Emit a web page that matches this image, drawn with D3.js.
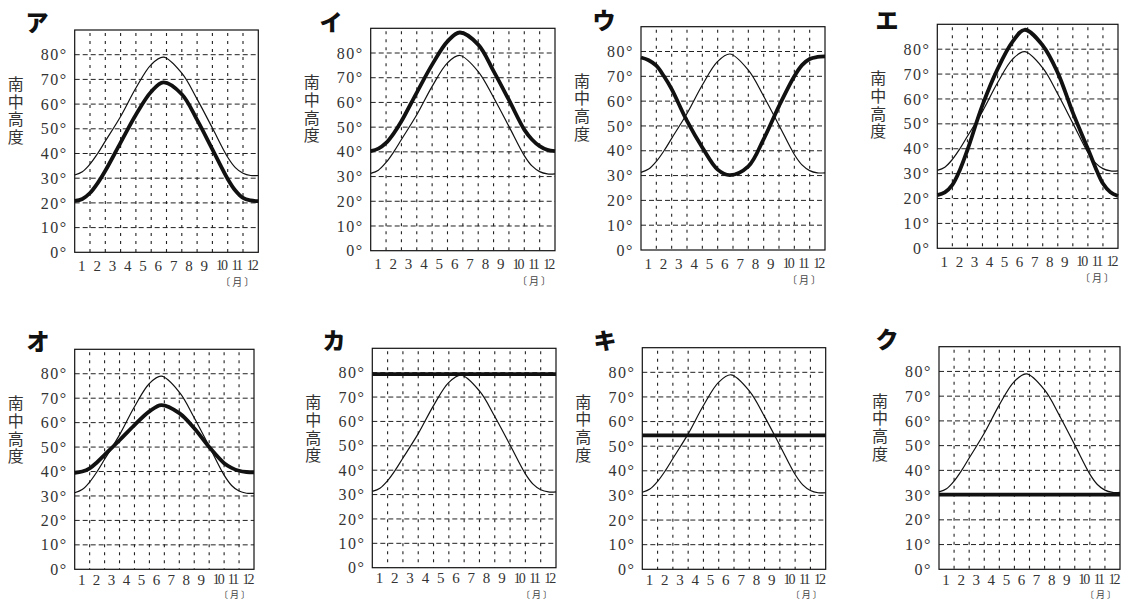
<!DOCTYPE html>
<html><head><meta charset="utf-8">
<script src="https://cdn.jsdelivr.net/npm/d3@7"></script>
<style>
html,body{margin:0;padding:0;background:#fff;}
svg{display:block;}
</style></head>
<body>
<svg id="c" width="1125" height="599"></svg>
<script>
// ---- data ----
const months = ["1","2","3","4","5","6","7","8","9","10","11","12"];
const monthCenters = [0.5,1.5,2.5,3.5,4.5,5.5,6.5,7.5,8.5,9.5,10.5,11.5];
const yTicks = [0,10,20,30,40,50,60,70,80];
const yTickLabels = ["0°","10°","20°","30°","40°","50°","60°","70°","80°"];
const axisTitle = "南中高度";
const unitLabel = "〔月〕";
const panelLabels = ["ア","イ","ウ","エ","オ","カ","キ","ク"];

// month positions (0 = start of Jan, 12 = end of Dec)
const pos = [0, 0.5, 1, 1.5, 2, 3, 4, 5, 5.8, 7, 8, 9, 10, 10.5, 11, 11.5, 12];
// thin reference curve (same in every panel)
const baseCurve = [31.3, 32.6, 35.7, 40, 45, 55, 66.5, 76, 79, 72.5, 62, 50.3, 38.5, 34.3, 32, 31.1, 31.1];
// thick curves
const thickA  = [20.8, 21.6, 24, 28, 33, 44.4, 55.7, 65, 68.8, 64, 53.6, 41.7, 29.7, 25, 22, 21, 20.7];
const thickI  = [40.3, 41.3, 43.6, 47.5, 52.4, 64, 75.3, 84.7, 88.3, 83.4, 72.7, 61, 49, 45, 42.3, 40.8, 40.3];
const thickU  = [77.6, 76.5, 74.3, 70, 64.8, 52, 41.3, 32.4, 30.2, 33.7, 44.7, 58, 70, 74.5, 77, 77.8, 78];
const thickE  = [21.4, 22.5, 25.5, 31.5, 39.5, 57.5, 72, 83, 87.8, 81.5, 70.5, 54.5, 40, 32.5, 26, 22.5, 21];
const thickO  = [39.5, 40, 41.3, 43.8, 46.8, 52.8, 59, 64.6, 67.2, 63.9, 57.7, 50, 43.4, 41.5, 40.3, 39.8, 39.7];
const flatPos = [0, 12];
const thickKa = [79.4, 79.4];
const thickKi = [54.4, 54.4];
const thickKu = [30.2, 30.2];

const thickSeries = [
  {p: pos, v: thickA}, {p: pos, v: thickI}, {p: pos, v: thickU}, {p: pos, v: thickE},
  {p: pos, v: thickO}, {p: flatPos, v: thickKa}, {p: flatPos, v: thickKi}, {p: flatPos, v: thickKu}
];

// ---- layout ----
const boxes = [
  {l: 74.7, r: 258.3, t: 30,    b: 252.3, tx: 37,  ty: 31,  row: 0},
  {l: 370.7, r: 555,  t: 28.3,  b: 250.7, tx: 331, ty: 31,  row: 0},
  {l: 641,  r: 825,   t: 26.7,  b: 250,   tx: 604, ty: 29,  row: 0},
  {l: 937.3, r: 1118, t: 24.3,  b: 248.3, tx: 887, ty: 29,  row: 0},
  {l: 74.7, r: 254,   t: 349.3, b: 569.3, tx: 38,  ty: 350, row: 1},
  {l: 372.3, r: 556,  t: 348.3, b: 567.7, tx: 334, ty: 349, row: 1},
  {l: 642.3, r: 825.7,t: 347.7, b: 569.3, tx: 605, ty: 349, row: 1},
  {l: 939,  r: 1120,  t: 346.7, b: 569.3, tx: 887, ty: 348, row: 1}
];

const svg = d3.select("#c");
const serif = "'Liberation Serif','DejaVu Serif',serif";
const jp = "'Noto Sans CJK JP','Noto Sans CJK SC',sans-serif";

boxes.forEach((bx, i) => {
  const x = d3.scaleLinear().domain([0, 12]).range([bx.l, bx.r]);
  const y = d3.scaleLinear().domain([0, 90]).range([bx.b, bx.t]);
  const g = svg.append("g");

  // horizontal dashed grid
  g.selectAll("line.h").data(yTicks.filter(d => d > 0)).join("line")
    .attr("x1", bx.l).attr("x2", bx.r)
    .attr("y1", d => y(d)).attr("y2", d => y(d))
    .attr("stroke", "#222").attr("stroke-width", 1)
    .attr("stroke-dasharray", "5,3");
  // vertical dotted grid
  g.selectAll("line.v").data(d3.range(1, 12)).join("line")
    .attr("x1", d => x(d)).attr("x2", d => x(d))
    .attr("y1", bx.t + 3).attr("y2", bx.b)
    .attr("stroke", "#222").attr("stroke-width", 1.1)
    .attr("stroke-dasharray", "3,5");

  // frame
  g.append("rect").attr("x", bx.l).attr("y", bx.t)
    .attr("width", bx.r - bx.l).attr("height", bx.b - bx.t)
    .attr("fill", "none").attr("stroke", "#111").attr("stroke-width", 1.2);

  // y axis labels
  const ya = d3.axisLeft(y).tickValues(yTicks).tickSize(0).tickPadding(7)
    .tickFormat((d, k) => yTickLabels[k]);
  const yg = g.append("g").attr("transform", `translate(${bx.l},0)`).call(ya);
  yg.select(".domain").remove();
  yg.selectAll("text").attr("font-family", serif).attr("font-size", 16)
    .attr("letter-spacing", 1.5).attr("fill", "#333");

  // x axis labels
  const xa = d3.axisBottom(x).tickValues(monthCenters).tickSize(0)
    .tickPadding(bx.row ? 5 : 8)
    .tickFormat((d, k) => months[k]);
  const xg = g.append("g").attr("transform", `translate(0,${bx.b})`).call(xa);
  xg.select(".domain").remove();
  xg.selectAll("text").attr("font-family", serif).attr("font-size", (d, k) => months[k].length > 1 ? 14 : 15)
    .attr("fill", "#333")
    .attr("letter-spacing", (d, k) => months[k].length > 1 ? -2 : 0)
    .attr("dx", (d, k) => months[k].length > 1 ? 0.5 : -1);

  // unit
  g.append("text").attr("x", bx.r - 2).attr("y", bx.row ? 597.5 : bx.b + 34)
    .attr("text-anchor", "end").attr("font-family", jp).attr("font-size", bx.row ? 9 : 10)
    .attr("letter-spacing", 2).attr("fill", "#444").text(unitLabel);

  // y title (vertical)
  g.append("text").attr("x", bx.l - 59).attr("y", bx.t + 46)
    .attr("font-family", jp).attr("font-size", 16)
    .attr("fill", "#333").attr("letter-spacing", 1.6)
    .style("writing-mode", "vertical-rl")
    .text(axisTitle);

  // panel label
  g.append("text").attr("x", bx.tx).attr("y", bx.ty).attr("text-anchor", "middle")
    .attr("font-family", jp).attr("font-weight", 900).attr("font-size", 23)
    .attr("fill", "#111").text(panelLabels[i]);

  // curves
  const line = d3.line().curve(d3.curveCatmullRom.alpha(0.5));
  g.append("path")
    .attr("d", line(pos.map((p, k) => [x(p), y(baseCurve[k])])))
    .attr("fill", "none").attr("stroke", "#111").attr("stroke-width", 1.2);
  const s = thickSeries[i];
  g.append("path")
    .attr("d", line(s.p.map((p, k) => [x(p), y(s.v[k])])))
    .attr("fill", "none").attr("stroke", "#111").attr("stroke-width", 3.8)
    .attr("stroke-linejoin", "round");
});
</script>
</body></html>
